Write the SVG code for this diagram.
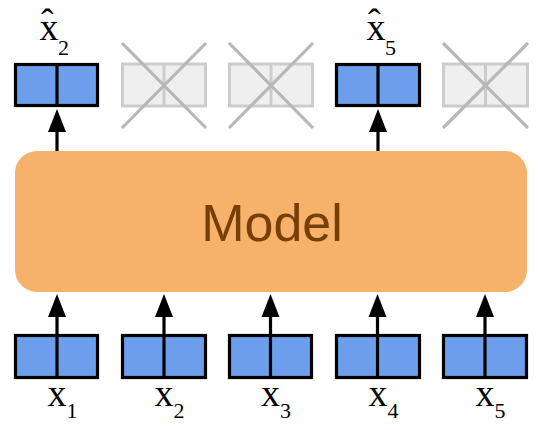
<svg xmlns="http://www.w3.org/2000/svg" width="541" height="430" viewBox="0 0 541 430">
<style>
.tok{fill:#6D9EEB;stroke:#000;stroke-width:3.2}
.div{stroke:#000;stroke-width:3.2}
.gbox{fill:#EFEFEF;stroke:#CCCCCC;stroke-width:3}
.gdiv{stroke:#CCCCCC;stroke-width:3}
.cross{stroke:#B7B7B7;stroke-width:3.2;stroke-linecap:butt}
.arr{stroke:#000;stroke-width:3.2;fill:none}
.lbl{font-family:"Liberation Serif","Times New Roman",serif;font-size:38px;fill:#000}
.sub{font-size:22px}
.model-text{font-family:"Liberation Sans",Arial,sans-serif;font-size:52px;fill:#783F04}
</style>
<defs>
<marker id="ah" markerUnits="userSpaceOnUse" markerWidth="24" markerHeight="20" viewBox="0 -10 24 20" refX="1" refY="0" orient="auto">
<path d="M0,-9 L23,0 L0,9 z" fill="#000"/>
</marker>
</defs>

<g id="model">
<rect x="15" y="151" width="512" height="141" rx="22" ry="22" fill="#F6B26B"/>
<text class="model-text" x="272" y="241" text-anchor="middle">Model</text>
</g>

<g id="out1">
<rect class="tok" x="15.5" y="64.5" width="82" height="41"/>
<line class="div" x1="57" y1="64.5" x2="57" y2="105.5"/>
<text class="lbl"><tspan x="41" y="35">ˆ</tspan><tspan x="39.5" y="40">x</tspan><tspan class="sub" x="58" y="55">2</tspan></text>
</g>
<g id="out2">
<rect class="gbox" x="122.5" y="64" width="83" height="42"/>
<line class="gdiv" x1="164" y1="64" x2="164" y2="106"/>
<line class="cross" x1="122" y1="43" x2="206" y2="128"/>
<line class="cross" x1="206" y1="43" x2="122" y2="128"/>
</g>
<g id="out3">
<rect class="gbox" x="229.5" y="64" width="83" height="42"/>
<line class="gdiv" x1="271" y1="64" x2="271" y2="106"/>
<line class="cross" x1="229" y1="43" x2="313" y2="128"/>
<line class="cross" x1="313" y1="43" x2="229" y2="128"/>
</g>
<g id="out4">
<rect class="tok" x="336.5" y="64.5" width="83" height="41"/>
<line class="div" x1="378" y1="64.5" x2="378" y2="105.5"/>
<text class="lbl"><tspan x="368" y="35">ˆ</tspan><tspan x="366.5" y="40">x</tspan><tspan class="sub" x="385" y="55">5</tspan></text>
</g>
<g id="out5">
<rect class="gbox" x="443.5" y="64" width="84" height="42"/>
<line class="gdiv" x1="485.5" y1="64" x2="485.5" y2="106"/>
<line class="cross" x1="443" y1="43" x2="528" y2="128"/>
<line class="cross" x1="528" y1="43" x2="443" y2="128"/>
</g>

<g id="in1">
<rect class="tok" x="15.5" y="335.5" width="82" height="42"/>
<line class="div" x1="57" y1="335.5" x2="57" y2="377.5"/>
<text class="lbl"><tspan x="47.5" y="406">x</tspan><tspan class="sub" x="66.5" y="418">1</tspan></text>
</g>
<g id="in2">
<rect class="tok" x="122.5" y="335.5" width="83" height="42"/>
<line class="div" x1="164" y1="335.5" x2="164" y2="377.5"/>
<text class="lbl"><tspan x="154.5" y="406">x</tspan><tspan class="sub" x="173.5" y="418">2</tspan></text>
</g>
<g id="in3">
<rect class="tok" x="229.5" y="335.5" width="82" height="42"/>
<line class="div" x1="270.5" y1="335.5" x2="270.5" y2="377.5"/>
<text class="lbl"><tspan x="261" y="406">x</tspan><tspan class="sub" x="280" y="418">3</tspan></text>
</g>
<g id="in4">
<rect class="tok" x="336.5" y="335.5" width="83" height="42"/>
<line class="div" x1="377.5" y1="335.5" x2="377.5" y2="377.5"/>
<text class="lbl"><tspan x="368.5" y="406">x</tspan><tspan class="sub" x="387.5" y="418">4</tspan></text>
</g>
<g id="in5">
<rect class="tok" x="443.5" y="335.5" width="83" height="42"/>
<line class="div" x1="485" y1="335.5" x2="485" y2="377.5"/>
<text class="lbl"><tspan x="475.5" y="406">x</tspan><tspan class="sub" x="494.5" y="418">5</tspan></text>
</g>

<g id="connectors">
<line class="arr" x1="57" y1="151" x2="57" y2="131" marker-end="url(#ah)"/>
<line class="arr" x1="378" y1="151" x2="378" y2="131" marker-end="url(#ah)"/>
<line class="arr" x1="57" y1="336" x2="57" y2="316" marker-end="url(#ah)"/>
<line class="arr" x1="164" y1="336" x2="164" y2="316" marker-end="url(#ah)"/>
<line class="arr" x1="270.5" y1="336" x2="270.5" y2="316" marker-end="url(#ah)"/>
<line class="arr" x1="377.5" y1="336" x2="377.5" y2="316" marker-end="url(#ah)"/>
<line class="arr" x1="485" y1="336" x2="485" y2="316" marker-end="url(#ah)"/>
</g>
</svg>
